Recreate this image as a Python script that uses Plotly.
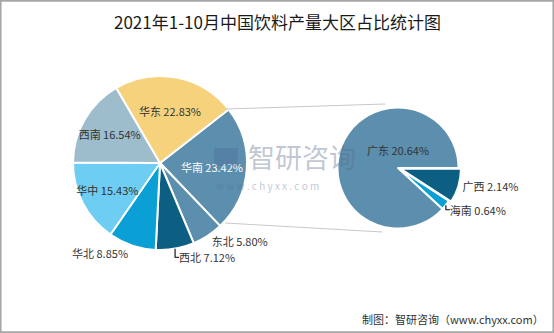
import plotly.graph_objects as go

# Data
regions = ["华南", "东北", "西北", "华北", "华中", "西南", "华东"]
region_share = [23.42, 5.80, 7.12, 8.85, 15.43, 16.54, 22.83]
region_colors = ["#5b8fad", "#5b8fad", "#0c5f82", "#0aa0d6", "#6dcdf2", "#9dbccc", "#f6d27c"]
region_textpos = ["inside", "outside", "outside", "outside", "inside", "inside", "inside"]
region_textcol = ["white", "#333333", "#333333", "#333333", "#333333", "#333333", "#333333"]

provinces = ["广西", "海南", "广东"]
province_share = [2.14, 0.64, 20.64]
province_colors = ["#0c5f82", "#0aa0d6", "#5b8fad"]
province_textpos = ["outside", "outside", "inside"]

title = "2021年1-10月中国饮料产量大区占比统计图"
source = "制图：智研咨询（www.chyxx.com）"

W, H = 554, 333
FONT = "Noto Sans CJK SC"

def fmt(names, vals):
    return [f"{n} {v:.2f}%" for n, v in zip(names, vals)]

fig = go.Figure()

fig.add_trace(go.Pie(
    labels=regions, values=region_share, sort=False, direction="clockwise",
    rotation=52, text=fmt(regions, region_share), textinfo="text",
    textposition=region_textpos, insidetextorientation="horizontal",
    textfont=dict(family=FONT, size=11, color=region_textcol),
    outsidetextfont=dict(family=FONT, size=11, color="#333333"),
    marker=dict(colors=region_colors, line=dict(color="white", width=2)),
    domain=dict(x=[73 / W, 247 / W], y=[(H - 250) / H, (H - 76) / H]),
    showlegend=False, hoverinfo="label+percent",
))

fig.add_trace(go.Pie(
    labels=provinces, values=province_share, sort=False, direction="clockwise",
    rotation=90, text=fmt(provinces, province_share), textinfo="text",
    textposition=province_textpos, insidetextorientation="horizontal",
    textfont=dict(family=FONT, size=11, color="#333333"),
    outsidetextfont=dict(family=FONT, size=11, color="#333333"),
    marker=dict(colors=province_colors, line=dict(color="white", width=2)),
    pull=[0.04, 0, 0],
    domain=dict(x=[335 / W, 461 / W], y=[(H - 231) / H, (H - 105) / H]),
    showlegend=False, hoverinfo="label+percent",
))

shapes = [
    # connector lines
    dict(type="line", xref="paper", yref="paper", x0=225 / W, y0=1 - 109 / H, x1=385 / W, y1=1 - 104 / H,
         line=dict(color="#c8c8c8", width=1)),
    dict(type="line", xref="paper", yref="paper", x0=225 / W, y0=1 - 223 / H, x1=382 / W, y1=1 - 232 / H,
         line=dict(color="#c8c8c8", width=1)),
    # border
    dict(type="rect", xref="paper", yref="paper", x0=0.001, y0=0.002, x1=0.999, y1=0.998,
         line=dict(color="#a6a6a6", width=2)),
    # watermark logo block
    dict(type="rect", xref="paper", yref="paper", x0=214 / W, y0=1 - 166 / H, x1=238 / W, y1=1 - 148 / H,
         line=dict(width=0), fillcolor="rgba(70,100,150,0.3)", layer="above"),
]

annotations = [
    dict(text=title, x=0.5, y=1 - 22 / H, xref="paper", yref="paper", showarrow=False,
         font=dict(family=FONT, size=17, color="#1a1a1a"), xanchor="center", yanchor="middle"),
    dict(text=source, x=546 / W, y=1 - 319 / H, xref="paper", yref="paper", showarrow=False,
         font=dict(family=FONT, size=11, color="#333333"), xanchor="right", yanchor="middle"),
    dict(text="智研咨询", x=246 / W, y=1 - 156 / H, xref="paper", yref="paper", showarrow=False,
         font=dict(family=FONT, size=27, color="rgba(90,110,140,0.4)"), xanchor="left", yanchor="middle"),
    dict(text="w w w . c h y x x . c o m", x=214 / W, y=1 - 185 / H, xref="paper", yref="paper", showarrow=False,
         font=dict(family=FONT, size=10, color="rgba(90,110,140,0.4)"), xanchor="left", yanchor="middle"),
]

fig.update_layout(
    width=W, height=H, margin=dict(l=0, r=0, t=0, b=0),
    paper_bgcolor="white", plot_bgcolor="white",
    shapes=shapes, annotations=annotations,
    uniformtext=dict(minsize=11, mode="show"),
)

fig.write_html("out.html")
